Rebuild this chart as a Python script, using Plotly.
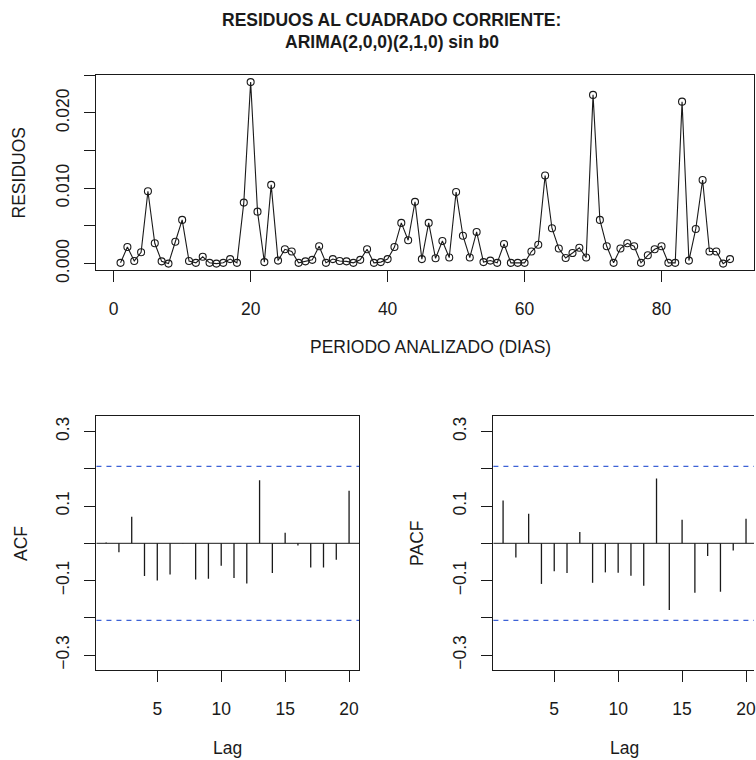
import plotly.graph_objects as go

# Squared residuals, days 1..90
dias = list(range(1, 91))
residuos = [
    0.0001, 0.0022, 0.00035, 0.0015, 0.0096, 0.0027, 0.0003, 0.0000, 0.0029, 0.0058,
    0.00035, 0.0001, 0.0009, 0.0001, 0.0000, 0.0001, 0.0006, 0.0001, 0.0081, 0.0241,
    0.0069, 0.0002, 0.01045, 0.0004, 0.0019, 0.0016, 0.0001, 0.0003, 0.0005, 0.0023,
    0.0001, 0.0006, 0.00035, 0.0003, 0.0001, 0.0005, 0.0019, 0.0001, 0.0002, 0.0006,
    0.0022, 0.0054, 0.0031, 0.0082, 0.0006, 0.0054, 0.0007, 0.0030, 0.0008, 0.0095,
    0.0037, 0.0008, 0.0042, 0.0002, 0.0004, 0.0001, 0.0026, 0.0001, 0.0001, 0.0001,
    0.0016, 0.0025, 0.0117, 0.0047, 0.0020, 0.00075, 0.0014, 0.0021, 0.0008, 0.0224,
    0.0058, 0.0023, 0.0001, 0.0020, 0.0027, 0.0023, 0.0001, 0.0011, 0.0019, 0.0023,
    0.0001, 0.0001, 0.0215, 0.0004, 0.0046, 0.0111, 0.0016, 0.0016, 0.0000, 0.0006,
]

# Autocorrelations of the squared residuals, lags 1..20
lags = list(range(1, 21))
acf_vals = [
    0.002, -0.024, 0.071, -0.088, -0.100, -0.084, 0.001, -0.097, -0.095, -0.060,
    -0.093, -0.108, 0.169, -0.080, 0.028, -0.006, -0.065, -0.065, -0.044, 0.141,
]
pacf_vals = [
    0.115, -0.038, 0.079, -0.109, -0.075, -0.080, 0.030, -0.106, -0.078, -0.079,
    -0.087, -0.114, 0.174, -0.179, 0.063, -0.133, -0.034, -0.130, -0.019, 0.066,
]
n_obs = len(residuos)
conf_limit = 1.96 / n_obs ** 0.5

top_yticks = [0.0, 0.005, 0.010, 0.015, 0.020, 0.025]
top_yticktext = ["0.000", "", "0.010", "", "0.020", ""]
top_xticks = [0, 20, 40, 60, 80]
cor_yticks = [-0.3, -0.2, -0.1, 0.0, 0.1, 0.2, 0.3]
cor_yticktext = ["\u22120.3", "", "\u22120.1", "", "0.1", "", "0.3"]
lag_ticks = [5, 10, 15, 20]

W, H = 756, 760
H_EFF = 748  # vertical extent used for pixel -> paper conversion
FONT = "Liberation Sans, Arial, Helvetica, sans-serif"
INK = "#1a1a1a"
BLUE = "#3d62d6"
TICK_FS = 17.5


def px_x(p):
    return p / W


def px_y(p):
    return 1 - p / H_EFF


def stems(xs, ys):
    sx, sy = [], []
    for x, y in zip(xs, ys):
        sx += [x, x, None]
        sy += [0, y, None]
    return sx, sy


fig = go.Figure()

# Top panel: squared residual series
fig.add_trace(go.Scatter(
    x=dias, y=residuos, mode="lines+markers",
    line=dict(color=INK, width=1.1),
    marker=dict(symbol="circle-open", size=7, color=INK, line=dict(width=1.1, color=INK)),
    xaxis="x", yaxis="y", showlegend=False, hoverinfo="skip",
))

# ACF stems
sx, sy = stems(lags, acf_vals)
fig.add_trace(go.Scatter(x=sx, y=sy, mode="lines", line=dict(color=INK, width=1.3),
                         xaxis="x2", yaxis="y2", showlegend=False, hoverinfo="skip"))
# PACF stems
sx, sy = stems(lags, pacf_vals)
fig.add_trace(go.Scatter(x=sx, y=sy, mode="lines", line=dict(color=INK, width=1.3),
                         xaxis="x3", yaxis="y3", showlegend=False, hoverinfo="skip"))

axis_common = dict(
    showgrid=False, zeroline=False, showline=True, linecolor=INK, linewidth=1,
    ticks="outside", ticklen=11, tickwidth=1, tickcolor=INK,
    tickfont=dict(family=FONT, size=TICK_FS, color=INK),
    fixedrange=True,
)

# Top panel axes
top_ppx = 6.866  # pixels per day
top_x0 = 114.0   # pixel of day 0
fig.update_layout(
    xaxis=dict(**axis_common, domain=[px_x(96.5), px_x(755.5)],
               range=[(96.5 - top_x0) / top_ppx, (755.5 - top_x0) / top_ppx],
               tickvals=top_xticks, mirror=True, anchor="y", ticklabelstandoff=12),
    yaxis=dict(**axis_common, domain=[px_y(270.3), px_y(75)],
               range=[-0.00089, 0.02504], tickvals=top_yticks, ticktext=top_yticktext,
               tickangle=-90, mirror=True, anchor="x", ticklabelstandoff=8),
)

# Correlogram panels
lag_ppx = 12.82
cor_ppu = 372.7
cor_zero = 543.3
cor_top, cor_bot = 415.7, 670.0
y_rng = [(cor_zero - cor_bot) / cor_ppu, (cor_zero - cor_top) / cor_ppu]

acf_l0 = 93.6
fig.update_layout(
    xaxis2=dict(**axis_common, domain=[px_x(96.7), px_x(360.0)],
                range=[(96.7 - acf_l0) / lag_ppx, (360.0 - acf_l0) / lag_ppx],
                tickvals=lag_ticks, mirror=True, anchor="y2", ticklabelstandoff=12),
    yaxis2=dict(**axis_common, domain=[px_y(cor_bot), px_y(cor_top)], range=y_rng,
                tickvals=cor_yticks, ticktext=cor_yticktext, tickangle=-90,
                mirror=True, anchor="x2", ticklabelstandoff=8),
)

pacf_l0 = 491.6
fig.update_layout(
    xaxis3=dict(**axis_common, domain=[px_x(494.7), 1.0],
                range=[(494.7 - pacf_l0) / lag_ppx, (W - pacf_l0) / lag_ppx],
                tickvals=lag_ticks, mirror=True, anchor="y3", ticklabelstandoff=12,
                ticklabeloverflow="allow"),
    yaxis3=dict(**axis_common, domain=[px_y(cor_bot), px_y(cor_top)], range=y_rng,
                tickvals=cor_yticks, ticktext=cor_yticktext, tickangle=-90,
                mirror=False, anchor="x3", ticklabelstandoff=8),
)

shapes = []
for xr, yr, xd in (("x2", "y2", "x2 domain"), ("x3", "y3", "x3 domain")):
    shapes.append(dict(type="line", xref=xd, yref=yr, x0=0, x1=1, y0=0, y1=0,
                       line=dict(color=INK, width=1)))
    for lim in (conf_limit, -conf_limit):
        shapes.append(dict(type="line", xref=xd, yref=yr, x0=0, x1=1, y0=lim, y1=lim,
                           line=dict(color=BLUE, width=1.2, dash="5px,5px")))

LABEL_FS = 17.5
annotations = [
    dict(text="<b>RESIDUOS AL CUADRADO CORRIENTE:</b>", x=px_x(393), y=px_y(19.5)),
    dict(text="<b>ARIMA(2,0,0)(2,1,0) sin b0</b>", x=px_x(393), y=px_y(42.5)),
    dict(text="PERIODO ANALIZADO (DIAS)", x=px_x(432), y=px_y(347)),
    dict(text="RESIDUOS", x=px_x(20), y=px_y(172.5), textangle=-90),
    dict(text="ACF", x=px_x(21), y=px_y(543), textangle=-90),
    dict(text="PACF", x=px_x(418), y=px_y(543), textangle=-90),
    dict(text="Lag", x=px_x(228.3), y=px_y(748)),
    dict(text="Lag", x=px_x(626.3), y=px_y(748)),
]
for a in annotations:
    a.update(xref="paper", yref="paper", showarrow=False, xanchor="center", yanchor="middle")
    if a["text"].startswith("<b>"):
        a["font"] = dict(family=FONT, size=17.5, color=INK)
    else:
        a["font"] = dict(family=FONT, size=LABEL_FS, color=INK)

fig.update_layout(
    width=W, height=H, margin=dict(l=0, r=0, t=0, b=0),
    paper_bgcolor="white", plot_bgcolor="white",
    shapes=shapes, annotations=annotations, showlegend=False,
)

fig.write_html("out.html", config={"displayModeBar": False})
